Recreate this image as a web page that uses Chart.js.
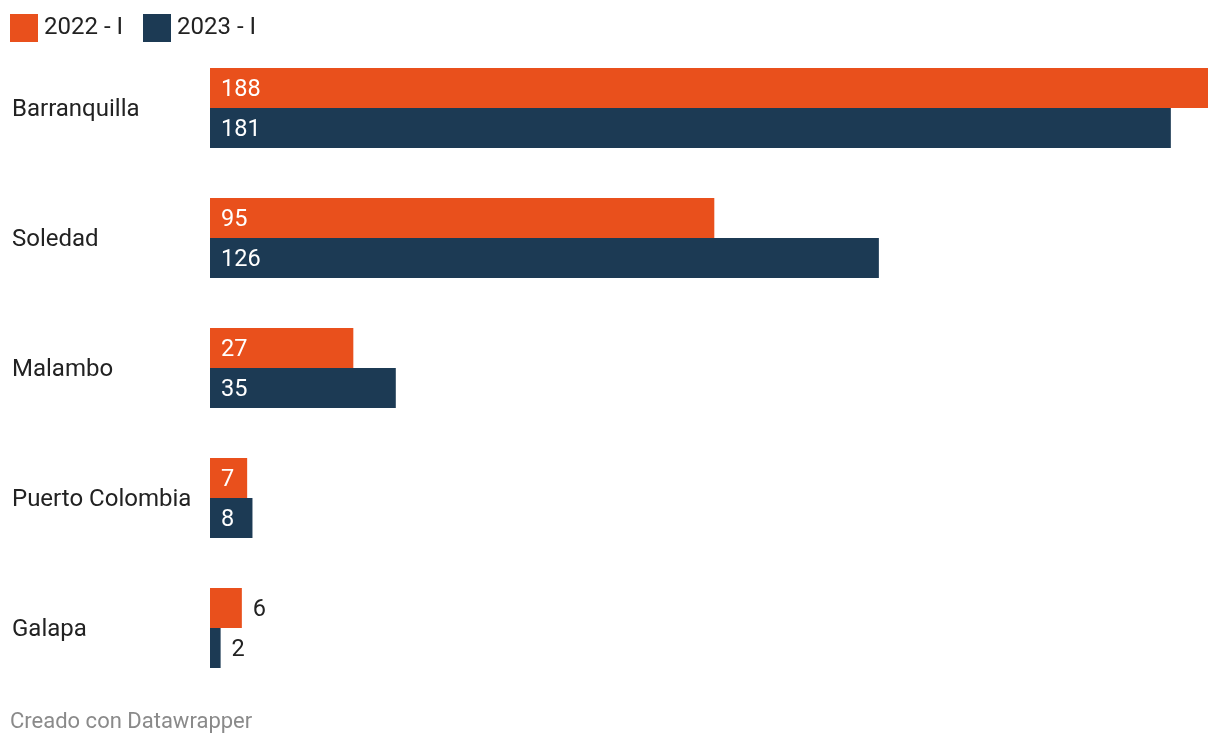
<!DOCTYPE html>
<html>
<head>
<meta charset="utf-8">
<script src="https://cdn.jsdelivr.net/npm/chart.js@4"></script>
<style>
  html, body { margin: 0; padding: 0; background: #fff; }
  body { width: 1220px; height: 746px; position: relative; overflow: hidden; font-family: Roboto, sans-serif; }
  #chartWrap { position: absolute; left: 0; top: 0; width: 1220px; height: 746px; }
  .legend { position: absolute; left: 10px; top: 14px; height: 28px; display: flex; align-items: center; font-size: 24px; color: #222; }
  .legend .sw { width: 28px; height: 28px; margin-right: 6px; }
  .legend .item { display: flex; align-items: center; margin-right: 20px; }
  .legend span { position: relative; top: -2px; }
  .footer { position: absolute; left: 10px; top: 708px; font-size: 22px; color: #8a8a8a; }
</style>
</head>
<body>
<div id="chartWrap"><canvas id="chart"></canvas></div>
<div class="legend" id="legend"></div>
<div class="footer">Creado con Datawrapper</div>
<script>
// Data
const categories = ['Barranquilla', 'Soledad', 'Malambo', 'Puerto Colombia', 'Galapa'];
const seriesNames = ['2022 - I', '2023 - I'];
const values2022 = [188, 95, 27, 7, 6];
const values2023 = [181, 126, 35, 8, 2];
const colors = ['#E9501C', '#1C3A54'];

// Build legend
const legendEl = document.getElementById('legend');
seriesNames.forEach((name, i) => {
    const item = document.createElement('div');
    item.className = 'item';
    item.innerHTML = '<div class="sw" style="background:' + colors[i] + '"></div><span>' + name + '</span>';
    legendEl.appendChild(item);
});

// Value labels inside or outside the bars
const valueLabels = {
    id: 'valueLabels',
    afterDatasetsDraw(chart) {
        const ctx = chart.ctx;
        ctx.save();
        ctx.font = '23.5px Roboto';
        ctx.textBaseline = 'middle';
        ctx.textAlign = 'left';
        chart.data.datasets.forEach((ds, di) => {
            const meta = chart.getDatasetMeta(di);
            meta.data.forEach((bar, i) => {
                const text = String(ds.data[i]);
                const w = ctx.measureText(text).width;
                const barW = bar.x - bar.base;
                if (barW >= w + 22) {
                    ctx.fillStyle = '#ffffff';
                    ctx.fillText(text, bar.base + 11, bar.y + 2);
                } else {
                    ctx.fillStyle = '#222222';
                    ctx.fillText(text, bar.x + 11, bar.y + 2);
                }
            });
        });
        ctx.restore();
    }
};

const ctx = document.getElementById('chart').getContext('2d');
new Chart(ctx, {
    type: 'bar',
    data: {
        labels: categories,
        datasets: [
            { label: seriesNames[0], data: values2022, backgroundColor: colors[0] },
            { label: seriesNames[1], data: values2023, backgroundColor: colors[1] }
        ]
    },
    options: {
        indexAxis: 'y',
        responsive: true,
        maintainAspectRatio: false,
        animation: false,
        layout: { padding: { left: 12, top: 43, bottom: 53, right: 12 } },
        datasets: { bar: { categoryPercentage: 80 / 130, barPercentage: 1 } },
        plugins: { legend: { display: false }, tooltip: { enabled: false } },
        scales: {
            x: { display: false, min: 0, max: 188 },
            y: {
                grid: { display: false },
                border: { display: false },
                ticks: {
                    crossAlign: 'far',
                    padding: 0,
                    labelOffset: 2,
                    color: '#222',
                    font: { family: 'Roboto', size: 24 }
                },
                afterFit(scale) { scale.width = 198; }
            }
        }
    },
    plugins: [valueLabels]
});
</script>
</body>
</html>
